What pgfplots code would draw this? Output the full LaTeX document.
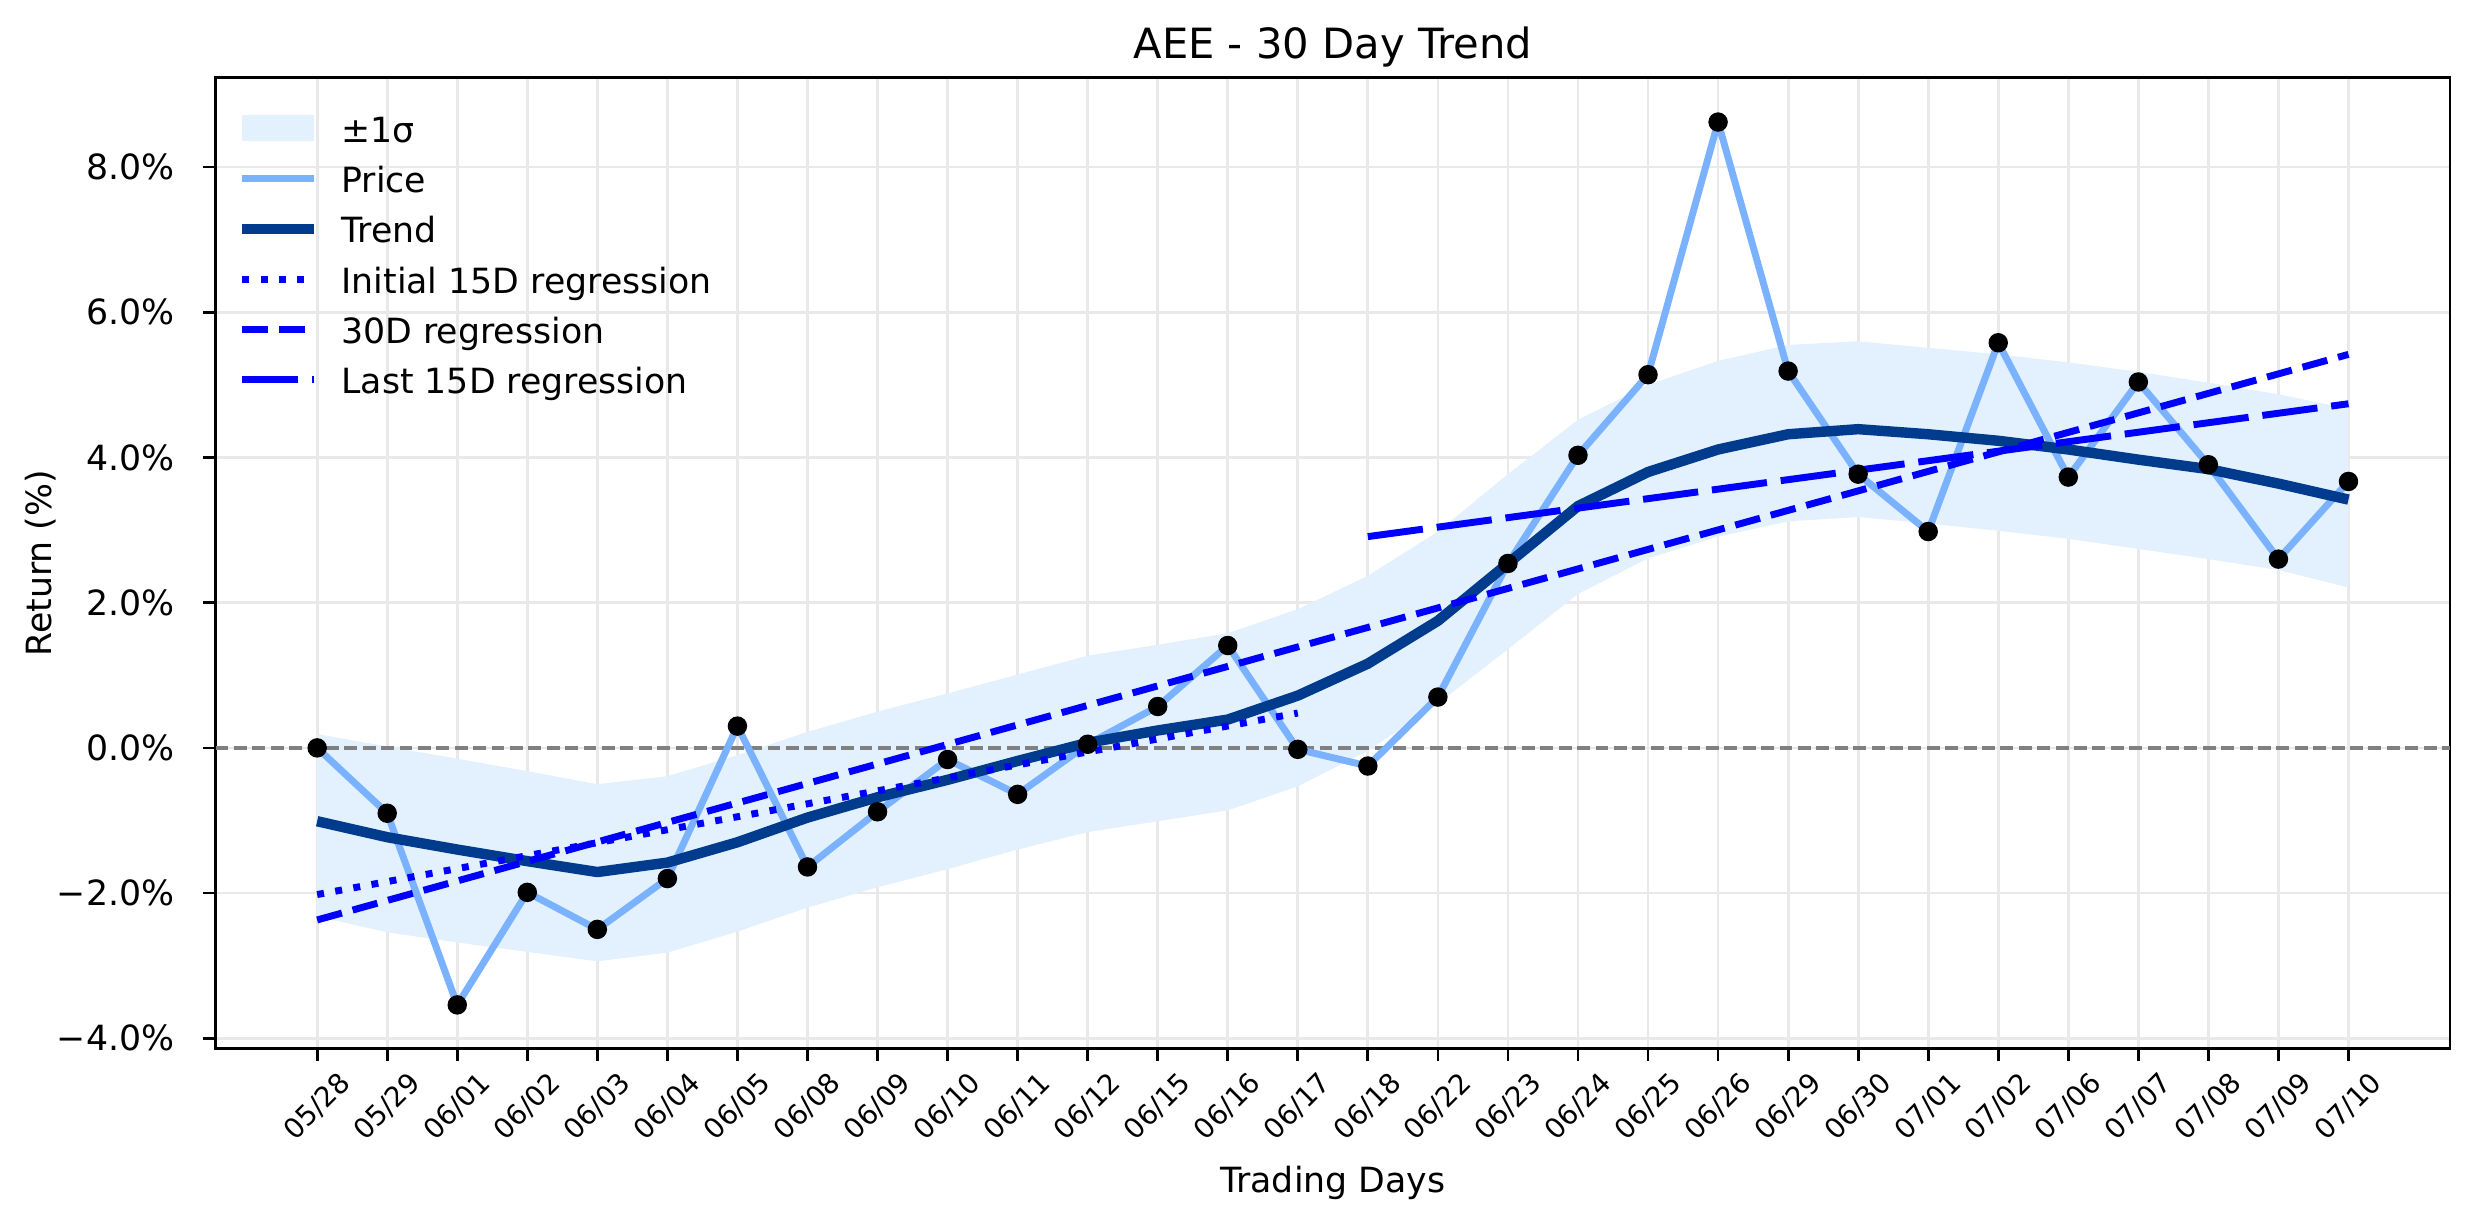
\documentclass[border=0pt]{standalone}
\usepackage{fontspec}
\setmainfont{DejaVu Sans}
\usepackage{pgfplots}
\pgfplotsset{compat=1.18}
\usepackage{pgfplotstable}
\usepgfplotslibrary{fillbetween}

\definecolor{pricec}{RGB}{122,178,255}
\definecolor{trendc}{RGB}{0,59,142}
\definecolor{bandc}{RGB}{227,240,253}
\definecolor{gridc}{RGB}{233,233,233}
\definecolor{zeroc}{RGB}{128,128,128}
\definecolor{regc}{RGB}{0,0,255}

\pgfplotstableread{
x price trend upper lower
0 0.00 -1.01 0.19 -2.32
1 -0.90 -1.23 0.02 -2.54
2 -3.54 -1.40 -0.15 -2.68
3 -1.99 -1.56 -0.32 -2.81
4 -2.50 -1.71 -0.50 -2.94
5 -1.80 -1.58 -0.39 -2.82
6 0.30 -1.30 -0.10 -2.53
7 -1.64 -0.96 0.22 -2.20
8 -0.88 -0.68 0.50 -1.92
9 -0.16 -0.44 0.75 -1.67
10 -0.64 -0.18 1.01 -1.40
11 0.05 0.07 1.27 -1.16
12 0.57 0.24 1.42 -1.01
13 1.41 0.39 1.58 -0.86
14 -0.02 0.72 1.91 -0.53
15 -0.25 1.16 2.37 -0.04
16 0.70 1.75 2.98 0.61
17 2.54 2.54 3.77 1.36
18 4.03 3.33 4.52 2.12
19 5.14 3.80 5.00 2.61
20 8.62 4.11 5.33 2.91
21 5.19 4.32 5.55 3.12
22 3.77 4.39 5.60 3.18
23 2.98 4.32 5.51 3.09
24 5.58 4.23 5.42 2.99
25 3.73 4.11 5.31 2.88
26 5.04 3.97 5.18 2.74
27 3.90 3.84 5.03 2.60
28 2.60 3.64 4.87 2.45
29 3.67 3.42 4.67 2.21
}\datatable

\pgfplotsset{
  linelegend/.style={legend image code/.code={\draw[##1] (0pt,0pt) -- (20.6pt,0pt);}},
  arealegend/.style={legend image code/.code={\fill[##1] (0pt,-3.7pt) rectangle (20.6pt,3.7pt);}},
}

\begin{document}
\begin{tikzpicture}
\begin{axis}[
  at={(0pt,0pt)}, anchor=south west,
  scale only axis, width=643.6pt, height=279.6pt,
  xmin=-1.45, xmax=30.45, ymin=-4.14, ymax=9.23,
  xtick={0,...,29},
  xticklabels={05/28,05/29,06/01,06/02,06/03,06/04,06/05,06/08,06/09,06/10,06/11,06/12,06/15,06/16,06/17,06/18,06/22,06/23,06/24,06/25,06/26,06/29,06/30,07/01,07/02,07/06,07/07,07/08,07/09,07/10},
  ytick={-4,-2,0,2,4,6,8},
  yticklabels={−4.0\%,−2.0\%,0.0\%,2.0\%,4.0\%,6.0\%,8.0\%},
  tick align=outside, tick pos=left, major tick length=3.5pt,
  major tick style={black, line width=0.8pt},
  minor tick num=0,
  axis line style={line width=0.8pt, black},
  grid=major, grid style={gridc, line width=0.8pt},
  xticklabel style={font=\fontsize{8}{9.6}\selectfont, rotate=45, anchor=center, inner sep=0pt},
  xticklabel shift=13.3pt,
  yticklabel style={font=\fontsize{10}{12}\selectfont, anchor=east, inner sep=0pt},
  yticklabel shift=8.2pt,
  title={AEE - 30 Day Trend},
  title style={font=\fontsize{12}{14}\selectfont, at={(axis description cs:0.5,0.9986)}, anchor=base},
  xlabel={Trading Days},
  xlabel style={font=\fontsize{10}{12}\selectfont, at={(axis description cs:0.5,-0.1484)}, anchor=base},
  ylabel={Return (\%)},
  ylabel style={font=\fontsize{10}{12}\selectfont, at={(axis description cs:-0.0733,0.5)}, anchor=base},
  legend style={at={(axis description cs:0.0096,0.966)}, anchor=north west, draw=none, fill=none,
    inner sep=0pt, outer sep=0pt, row sep=4.5pt, column sep=6.5pt,
    nodes={inner sep=0pt, text height=9pt, text depth=1pt},
    font=\fontsize{10}{12}\selectfont},
  legend cell align=left,
]
\addplot[name path=up, draw=none, forget plot] table[x=x, y=upper] {\datatable};
\addplot[name path=lo, draw=none, forget plot] table[x=x, y=lower] {\datatable};
\addplot[fill=bandc, draw=none, arealegend] fill between[of=up and lo];
\addlegendentry{±1σ}

\addplot[zeroc, line width=1pt, dash pattern=on 3.7pt off 1.6pt, forget plot] coordinates {(-1.45,0) (30.45,0)};

\addplot[pricec, line width=2pt, line join=round, linelegend] table[x=x, y=price] {\datatable};
\addlegendentry{Price}

\addplot[trendc, line width=3pt, line join=round, linelegend] table[x=x, y=trend] {\datatable};
\addlegendentry{Trend}

\addplot[regc, line width=2pt, dash pattern=on 2pt off 3.3pt, linelegend] coordinates {(0,-2.02) (14,0.48)};
\addlegendentry{Initial 15D regression}

\addplot[regc, line width=2pt, dash pattern=on 7.4pt off 3.2pt, linelegend] coordinates {(0,-2.37) (29,5.42)};
\addlegendentry{30D regression}

\addplot[regc, line width=2pt, dash pattern=on 16pt off 4pt, linelegend] coordinates {(15,2.91) (29,4.74)};
\addlegendentry{Last 15D regression}

\addplot[only marks, mark=*, mark size=2.6pt, black, forget plot] table[x=x, y=price] {\datatable};
\end{axis}
\pgfresetboundingbox
\useasboundingbox (-62.1pt,-50.5pt) rectangle (650.5pt,302pt);
\end{tikzpicture}
\end{document}
